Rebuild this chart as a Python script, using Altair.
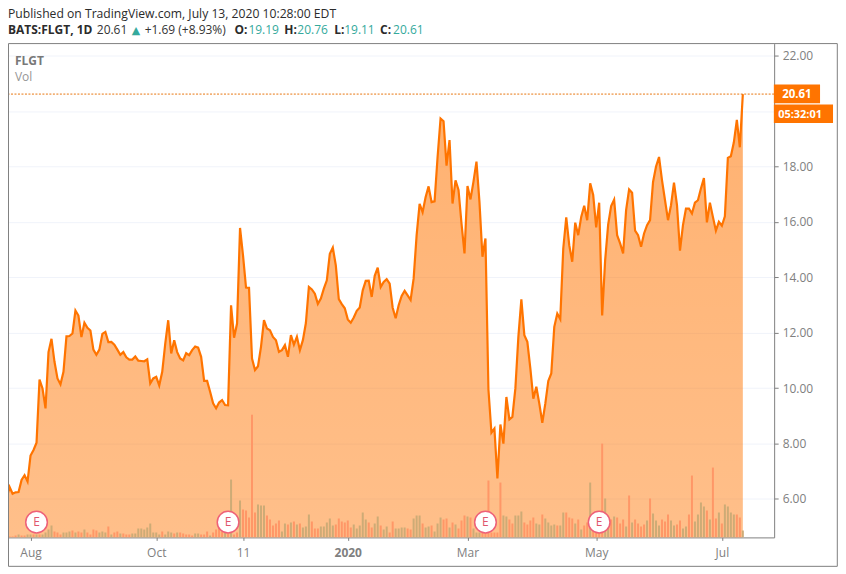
import altair as alt
import pandas as pd

# Closing prices, trading day by trading day
close_a = [6.04,6.43,6.19,6.24,6.25,6.69,6.86,6.63,7.57,7.77,8.03,10.31,9.99,9.27,11.3,11.78,10.95,10.35,10.14,10.59,
           11.87,11.88,11.97,12.8,12.62,11.84,12.36,12.18,12.08,11.39,11.2,11.39,11.96,12.03,11.66,11.67,11.57,11.39,11.2,11.3,
           11.11,11.03,11.03,11.14,10.99,10.98,10.97,11.04,10.17,10.35,10.41]
close_b = [10.1,10.59,11.6,12.45,11.25,11.73,11.3,11.07,11.0,11.26,11.19,11.37,11.5,11.46,11.13,10.26,10.26,9.87,9.45,9.27,
           9.48,9.57,9.39,9.38,12.99,11.82,12.33,15.78,14.78,13.63,13.62,11.07,10.65,10.79,11.49,12.45,12.15,12.09,11.85,11.73,
           11.31,11.37,11.55,11.13,11.91,11.57,11.85,11.37,11.73,12.35]
close_c = [13.65,13.56,13.41,13.04,13.23,13.59,13.89,14.85,15.07,14.43,13.21,13.03,12.88,12.48,12.36,12.55,12.79,12.91,13.53,13.87,
           13.88,13.29,14.05,14.35,13.65,13.83,13.93,13.77,12.9,12.52,12.99,13.33,13.51,13.35,13.18,13.95,15.51,16.65,16.35,16.89,
           17.28,16.71,16.74,18.33,19.73,19.63,18.03,18.95,16.66,17.5]
close_d = [17.15,15.94,14.86,17.29,16.81,17.45,18.17,16.72,14.74,15.4,9.95,8.39,8.54,6.74,8.69,8.0,9.68,8.87,8.96,9.99,
           11.85,13.2,11.91,11.67,10.71,9.62,10.05,9.44,8.75,9.44,10.26,10.53,12.21,12.69,12.49,15.04,16.16,15.16,14.56,15.97,
           15.52,16.18,16.58,16.06,17.39,16.97,15.8,16.69,12.62,14.62]
close_e = [15.9,16.57,16.8,15.52,15.22,14.86,16.42,17.17,17.05,15.68,15.52,15.1,15.58,15.88,16.06,17.44,18.0,18.34,17.5,16.78,
           16.06,16.6,17.41,16.6,14.96,15.88,16.48,16.48,16.3,16.69,16.78,17.2,17.58,15.98,16.69,16.18,15.68,16.0,15.86,16.2,
           18.31,18.37,18.87,19.68,18.69,20.61]
close = close_a + close_b + close_c + close_d + close_e

# Volume bar heights (arbitrary unit) and direction: U up, D down
vol_a = [1,1,1,2,3,2,2,3,3,3,3,3,3,5,8,12,6,5,3,5,5,6,7,5,6,5,8,5,3,8,7,5,6,5,11,3,5,6,4,4,3,3,4,4,9,9,8,10,14,5,
         5,3,6,3,6,5,4,5,5,4,3,3,2,4,4,3,3,6,2,5,8,10,6,5,4,58,3,5,37,28,27,20,123,25,33,32,32,22,18,12,14,17]
dir_a = ("DDDDUDDUUDUDUUUU" "DDDUUUDUDD" "UDDDDUUUDU" "DDUDDDUUUU" "UUUUUUDUUU" "DUDDDDDUUD"
         "DDUDDDDUDU" "DDUDDDDDUU" "UDDDDD")
vol_b = [6,14,13,15,16,13,14,10,11,23,16,9,9,11,11,15,19,12,13,19,16,15,17,10,13,9,12,25,18,15,
         10,14,21,12,8,11,5,16,9,9,10,10,9,8,19,22,22,14,10,11,12,6,14,20,18,19,10,15,13,9,
         17,22,21,20,9,5,5,5,5,57,5,5,5,55,22,21,18,14,22,22,26,15,13,17,20,14,13,23,19,15,12,13,12]
dir_b = ("UUDUDUDUUU" "DDDUUUUUDD" "DDDDUUUUUD" "DUUDUUDDUU" "UUDDUUUDUU" "DUUUDDUDUD"
         "DDUDUUUDDD" "DDDDUUDDUU" "UDDDDUUDUU" "UUD")
vol_c = [12,25,25,20,19,14,18,8,12,15,55,15,15,15,94,39,18,18,21,20,14,18,11,42,15,18,14,11,13,17,
         39,24,17,12,18,16,23,17,12,13,17,9,11,23,62,16,23,35,31,27,18,70,19,25,14,33,31,25,23,23,20,7]
dir_c = ("UUDDDUDUDD" "UDDDDUUDUD" "DDUDUDDDDU" "DUUUDDDUUD" "DUUDDUUUUD" "UDDUDUUUUD" "DU")
volume = vol_a + vol_b + vol_c
direction = dir_a + dir_b + dir_c

earnings_days = [10, 74, 160, 198]
x_tick_days = [8, 50, 79, 114, 154, 197, 239]
x_tick_names = ["Aug", "Oct", "11", "2020", "Mar", "May", "Jul"]
y_ticks = [6, 8, 10, 12, 14, 16, 18, 20, 22]
last_close = 20.61

GREY = "#808080"
ORANGE = "#ff7400"
TEAL = "#34a99c"
UI_FONT = "Open Sans"

df = pd.DataFrame({"day": range(len(close)), "close": close, "volume": volume, "dir": list(direction)})
df["base"] = 4.614

x_scale = alt.Scale(domain=[0.4667, 256.467], nice=False, zero=False, padding=0)
y_scale = alt.Scale(domain=[4.614, 22.432], nice=False, zero=False)
x_enc = alt.X("day:Q", scale=x_scale, title=None,
              axis=alt.Axis(values=x_tick_days, grid=False, tickSize=3, tickColor=GREY, domainColor=GREY,
                            labelColor=GREY, labelFont=UI_FONT, labelFontSize=12, labelPadding=7,
                            labelFontWeight={"expr": "datum.value == 114 ? 700 : 400"},
                            labelExpr=" : ".join(f"datum.value == {d} ? '{n_}'" for d, n_ in zip(x_tick_days, x_tick_names)) + " : ''"))
y_enc = alt.Y("close:Q", scale=y_scale, title=None,
              axis=alt.Axis(orient="right", values=y_ticks, tickSize=4, tickColor=GREY, domainColor=GREY,
                            gridColor="#f0f3fa", grid=True, labelColor=GREY, labelFont=UI_FONT, labelFontSize=12,
                            labelPadding=4,
                            labelExpr="datum.value == 20 ? '' : format(datum.value, '.2f')"))

area = alt.Chart(df).mark_area(
    clip=True,
    color=alt.Gradient(gradient="linear", x1=0, x2=0, y1=0, y2=1,
                       stops=[alt.GradientStop(color="rgba(255,116,0,0.56)", offset=0),
                              alt.GradientStop(color="rgba(255,116,0,0.46)", offset=1)]),
).encode(x=x_enc, y=y_enc, y2="base:Q")

bars = alt.Chart(df).mark_bar(size=2, clip=True).encode(
    x=x_enc,
    y=alt.Y("volume:Q", scale=alt.Scale(domain=[0, 495], nice=False), axis=None),
    color=alt.Color("dir:N", legend=None,
                    scale=alt.Scale(domain=["U", "D"], range=["#cdab76", "#ff9767"])),
)

line = alt.Chart(df).mark_line(color=ORANGE, strokeWidth=2.2, clip=True).encode(
    x=x_enc, y=alt.Y("close:Q", scale=y_scale, axis=None))

last_rule = alt.Chart(pd.DataFrame({"close": [last_close]})).mark_rule(
    color="#e8750f", strokeWidth=1, strokeDash=[2, 1.5]).encode(y=alt.Y("close:Q", scale=y_scale, axis=None))

edf = pd.DataFrame({"day": earnings_days})
e_circle = alt.Chart(edf).mark_point(shape="circle", filled=True, fill="white", stroke="#ee6178",
                                     strokeWidth=1.5, size=470, opacity=1).encode(
    x=x_enc, y=alt.value(479.7))
e_text = alt.Chart(edf).mark_text(text="E", color="#e0566d", font=UI_FONT, fontSize=12, baseline="middle").encode(
    x=x_enc, y=alt.value(479.7))

one = alt.Data(values=[{"k": 1}])


def label(txt, x, y, color="#333333", size=12, weight="normal", align="left", font=UI_FONT):
    return alt.Chart(one).mark_text(text=txt, color=color, fontSize=size, fontWeight=weight, align=align,
                                    font=font, baseline="alphabetic").encode(x=alt.value(x), y=alt.value(y))


def box(x, x2, y, y2, **kw):
    return alt.Chart(one).mark_rect(**kw).encode(x=alt.value(x), x2=alt.value(x2), y=alt.value(y), y2=alt.value(y2))


frame = box(0.5, 831.3, 0, 524, fill="transparent", stroke=GREY, strokeWidth=1)
price_box = box(767.7, 814, 41, 59.7, fill=ORANGE)
clock_box = box(767.7, 827, 61, 79.7, fill=ORANGE)

decor = [
    frame, price_box, clock_box,
    label("20.61", 776, 54.5, color="white", weight="bold", size=11.5),
    label("05:32:01", 772, 74.5, color="white", weight="bold", size=11),
    label("FLGT", 7, 21, color="#787878", weight="bold"),
    label("Vol", 7, 38, color="#969696"),
    label("Published on TradingView.com, July 13, 2020 10:28:00 EDT", 0, -25.5, size=12.2, color="#2b2b2b"),
    label("BATS:FLGT, 1D", 0, -9.5, size=12, weight="bold", color="#2b2b2b"),
    label("20.61", 89, -9.5, size=12),
    label("▲", 124, -9.5, size=11, color=TEAL, font="DejaVu Sans"),
    label("+1.69 (+8.93%)", 137, -9.5, size=12),
    label("O:", 227, -9.5, size=12, weight="bold", color="#2b2b2b"),
    label("19.19", 241, -9.5, size=12, color=TEAL),
    label("H:", 277, -9.5, size=12, weight="bold", color="#2b2b2b"),
    label("20.76", 290, -9.5, size=12, color=TEAL),
    label("L:", 327, -9.5, size=12, weight="bold", color="#2b2b2b"),
    label("19.11", 337, -9.5, size=12, color=TEAL),
    label("C:", 373, -9.5, size=12, weight="bold", color="#2b2b2b"),
    label("20.61", 386, -9.5, size=12, color=TEAL),
]

chart = alt.layer(area, bars, line, last_rule, e_circle, e_text, *decor).resolve_scale(
    y="independent", color="independent"
).properties(
    width=768, height=495,
    padding={"left": 0, "top": 35, "right": 64, "bottom": 30},
    autosize=alt.AutoSizeParams(type="none"),
    background="white",
).configure_view(stroke=None)

chart.save("out.html", embed_options={"renderer": "svg", "actions": False})
